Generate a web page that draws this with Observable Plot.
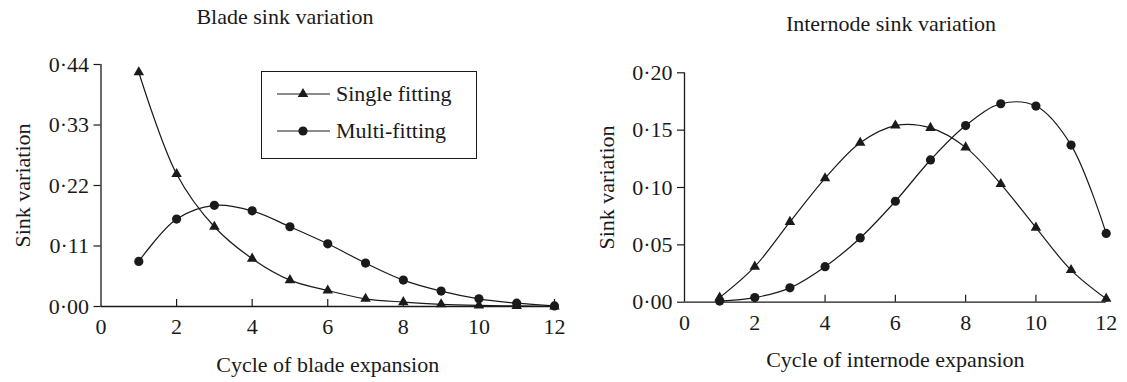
<!DOCTYPE html>
<html><head><meta charset="utf-8">
<script src="https://cdn.jsdelivr.net/npm/d3@7"></script>
<script src="https://cdn.jsdelivr.net/npm/@observablehq/plot@0.6"></script>
<style>
body{margin:0;background:#fff;}
#wrap{position:relative;width:1127px;height:382px;overflow:hidden;font-family:"Liberation Serif","Times New Roman",serif;color:#1a1a1a;}
.title{position:absolute;font-size:22px;white-space:nowrap;transform:translate(-50%,-50%);line-height:1;}
.legend{position:absolute;border:1.2px solid #1a1a1a;box-sizing:border-box;background:#fff;}
.legrow{position:absolute;left:0;height:30px;display:flex;align-items:center;font-size:22px;white-space:nowrap;}
</style></head><body><div id="wrap"></div>
<script>
const cycles = [1,2,3,4,5,6,7,8,9,10,11,12];
const bladeSingle = [0.426,0.241,0.145,0.087,0.048,0.029,0.014,0.008,0.004,0.002,0.001,0.000];
const bladeMulti  = [0.082,0.159,0.184,0.174,0.145,0.114,0.079,0.048,0.028,0.014,0.006,0.001];
const internodeSingle = [0.004,0.031,0.070,0.108,0.139,0.154,0.152,0.135,0.103,0.065,0.028,0.003];
const internodeMulti  = [0.001,0.004,0.0125,0.031,0.056,0.088,0.124,0.154,0.173,0.171,0.137,0.060];
const xTicks = [0,2,4,6,8,10,12];
const bladeYTicks = [0,0.11,0.22,0.33,0.44];
const internodeYTicks = [0,0.05,0.10,0.15,0.20];
const seriesNames = ["Single fitting","Multi-fitting"];
const titles = ["Blade sink variation","Internode sink variation"];
const xLabels = ["Cycle of blade expansion","Cycle of internode expansion"];
const yLabel = "Sink variation";

const ink = "#1a1a1a";
const font = '"Liberation Serif","Times New Roman",serif';
const fmtY = d => d.toFixed(2).replace(".", "\u00b7");

function chart({width, height, ml, mr, mt, mb, yMax, yTicks, single, multi, xLabel, yLabelOffset}) {
  const plotH = height - mt - mb;
  return Plot.plot({
    width, height,
    marginLeft: ml, marginRight: mr, marginTop: mt, marginBottom: mb,
    style: {fontFamily: font, fontSize: "22px", color: ink, background: "transparent", overflow: "visible"},
    x: {domain: [0, 12]},
    y: {domain: [0, yMax]},
    marks: [
      Plot.axisY(yTicks, {tickSize: 7, tickPadding: 5, tickFormat: fmtY, stroke: ink, strokeWidth: 1.2,
        label: yLabel, labelAnchor: "center", labelOffset: yLabelOffset, labelArrow: false}),
      Plot.axisX(xTicks, {tickSize: 0, tickPadding: 12, tickFormat: d => String(d),
        label: xLabel, labelAnchor: "center", labelOffset: 65, labelArrow: false}),
      Plot.tickX(xTicks.filter(d => d > 0), {x: d => d, stroke: ink, strokeWidth: 1.2, insetTop: plotH - 7}),
      Plot.ruleX([0], {stroke: ink, strokeWidth: 1.3}),
      Plot.ruleY([0], {stroke: ink, strokeWidth: 1.3}),
      Plot.line(cycles, {x: cycles, y: single, curve: "catmull-rom", stroke: ink, strokeWidth: 1.2}),
      Plot.line(cycles, {x: cycles, y: multi, curve: "catmull-rom", stroke: ink, strokeWidth: 1.2}),
      Plot.dot(cycles, {x: cycles, y: single, symbol: "triangle", r: 3.9, fill: ink, stroke: null}),
      Plot.dot(cycles, {x: cycles, y: multi, symbol: "circle", r: 4.6, fill: ink, stroke: null})
    ]
  });
}

const wrap = document.getElementById("wrap");

const left = chart({width: 570, height: 382, ml: 100.5, mr: 16, mt: 64, mb: 76, yMax: 0.44,
  yTicks: bladeYTicks, single: bladeSingle, multi: bladeMulti, xLabel: xLabels[0], yLabelOffset: 87});
left.style.position = "absolute"; left.style.left = "0px"; left.style.top = "0px";
wrap.appendChild(left);

const right = chart({width: 547, height: 382, ml: 104, mr: 21.3, mt: 72.3, mb: 80.3, yMax: 0.20,
  yTicks: internodeYTicks, single: internodeSingle, multi: internodeMulti, xLabel: xLabels[1], yLabelOffset: 86});
right.style.position = "absolute"; right.style.left = "580px"; right.style.top = "0px";
wrap.appendChild(right);

// titles
[[titles[0], 285, 17], [titles[1], 891, 24]].forEach(([t, x, y]) => {
  const d = document.createElement("div");
  d.className = "title"; d.textContent = t;
  d.style.left = x + "px"; d.style.top = y + "px";
  wrap.appendChild(d);
});

// legend
const leg = document.createElement("div");
leg.className = "legend";
Object.assign(leg.style, {left: "261px", top: "71px", width: "216px", height: "88px"});
const sizes = [3.9, 4.6];
seriesNames.forEach((name, i) => {
  const row = document.createElement("div");
  row.className = "legrow";
  row.style.top = (i === 0 ? 7 : 44) + "px";
  const svg = d3.create("svg").attr("width", 74).attr("height", 30).style("display", "block");
  svg.append("line").attr("x1", 15).attr("x2", 68).attr("y1", 15).attr("y2", 15).attr("stroke", ink).attr("stroke-width", 1.2);
  svg.append("path").attr("transform", "translate(41,15)")
    .attr("d", d3.symbol(i === 0 ? d3.symbolTriangle : d3.symbolCircle, Math.PI * sizes[i] * sizes[i])())
    .attr("fill", ink);
  row.appendChild(svg.node());
  const span = document.createElement("span");
  span.textContent = name;
  row.appendChild(span);
  leg.appendChild(row);
});
wrap.appendChild(leg);
</script></body></html>
